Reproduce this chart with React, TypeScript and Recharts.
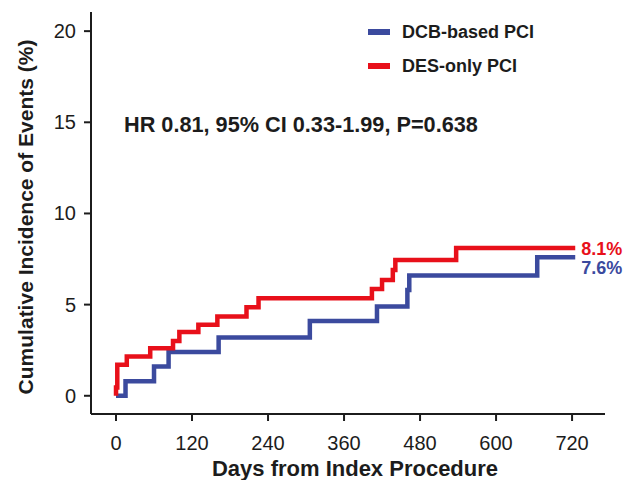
import { Line, LineChart, XAxis, YAxis } from "recharts";

// Kaplan-Meier style cumulative incidence.
const dcbDays = [0, 15, 60, 83, 162, 306, 412, 460, 463, 665, 725];
const dcbRisk = [0, 0.8, 1.6, 2.4, 3.2, 4.1, 4.9, 5.8, 6.6, 7.6, 7.6];

const desDays = [0, 0, 2, 17, 54, 90, 100, 130, 160, 206, 225, 404, 420, 437, 441, 537, 725];
const desRisk = [0, 0.45, 1.7, 2.15, 2.6, 3.0, 3.5, 3.9, 4.35, 4.85, 5.35, 5.85, 6.35, 6.9, 7.45, 8.1, 8.1];

const xTicks = [0, 120, 240, 360, 480, 600, 720];
const yTicks = [0, 5, 10, 15, 20];

const seriesNames = ["DCB-based PCI", "DES-only PCI"];
const endLabels = ["7.6%", "8.1%"];
const statsText = "HR 0.81, 95% CI 0.33-1.99, P=0.638";

const BLUE = "#3b4a9e";
const RED = "#e8101a";
const INK = "#1c1c1c";
const FONT = "'Liberation Sans', Arial, sans-serif";

const dcbData = dcbDays.map((day, i) => ({ day, risk: dcbRisk[i] }));
const desData = desDays.map((day, i) => ({ day, risk: desRisk[i] }));

const XTick = ({ x, y, payload }: any) => (
  <text x={x} y={y + 27} textAnchor="middle" fontSize={20} fill={INK} fontFamily={FONT}>
    {payload.value}
  </text>
);

const YTick = ({ x, y, payload }: any) => (
  <text x={x - 6} y={y + 7} textAnchor="end" fontSize={20} fill={INK} fontFamily={FONT}>
    {payload.value}
  </text>
);

const endLabel = (last: number, text: string, color: string, dy: number) => (props: any) =>
  props.index === last ? (
    <text
      x={props.x + 6}
      y={props.y + dy}
      fontSize={18}
      fontWeight="bold"
      fill={color}
      fontFamily={FONT}
    >
      {text}
    </text>
  ) : null;

const overlayText = {
  position: "absolute",
  fontFamily: FONT,
  fontWeight: "bold",
  color: INK,
  whiteSpace: "nowrap",
} as const;

export default function App() {
  return (
    <div style={{ position: "absolute", left: 0, top: 0, width: 632, height: 480, background: "#fff" }}>
      <LineChart width={632} height={480} margin={{ top: 12, right: 27, bottom: 0, left: 0 }}>
        <XAxis
          type="number"
          dataKey="day"
          domain={[-39.5, 772]}
          ticks={xTicks}
          height={66}
          stroke={INK}
          strokeWidth={2}
          tickSize={7}
          tick={<XTick />}
          allowDataOverflow
          label={{
            content: () => (
              <text x={355} y={476} textAnchor="middle" fontSize={22} fontWeight="bold" fill={INK} fontFamily={FONT}>
                Days from Index Procedure
              </text>
            ),
          }}
        />
        <YAxis
          type="number"
          domain={[-1, 21.05]}
          ticks={yTicks}
          width={91}
          stroke={INK}
          strokeWidth={2}
          tickSize={7}
          tick={<YTick />}
          allowDataOverflow
          label={{
            content: () => (
              <text
                x={33}
                y={217}
                transform="rotate(-90 33 217)"
                textAnchor="middle"
                fontSize={21}
                fontWeight="bold"
                fill={INK}
                fontFamily={FONT}
              >
                Cumulative Incidence of Events (%)
              </text>
            ),
          }}
        />
        <Line
          data={dcbData}
          dataKey="risk"
          name={seriesNames[0]}
          type="stepAfter"
          stroke={BLUE}
          strokeWidth={4.5}
          dot={false}
          isAnimationActive={false}
          label={endLabel(dcbData.length - 1, endLabels[0], BLUE, 17)}
        />
        <Line
          data={desData}
          dataKey="risk"
          name={seriesNames[1]}
          type="stepAfter"
          stroke={RED}
          strokeWidth={4.5}
          dot={false}
          isAnimationActive={false}
          label={endLabel(desData.length - 1, endLabels[1], RED, 7)}
        />
      </LineChart>
      {[BLUE, RED].map((c, i) => (
        <div
          key={i}
          style={{ ...overlayText, left: 368, top: 15 + i * 34, height: 34, fontSize: 18, display: "flex", alignItems: "center" }}
        >
          <div style={{ width: 22, height: 6, background: c, marginRight: 12 }} />
          <span>{seriesNames[i]}</span>
        </div>
      ))}
      <div style={{ ...overlayText, left: 124, top: 114, fontSize: 21.7, lineHeight: "21.7px" }}>{statsText}</div>
    </div>
  );
}
